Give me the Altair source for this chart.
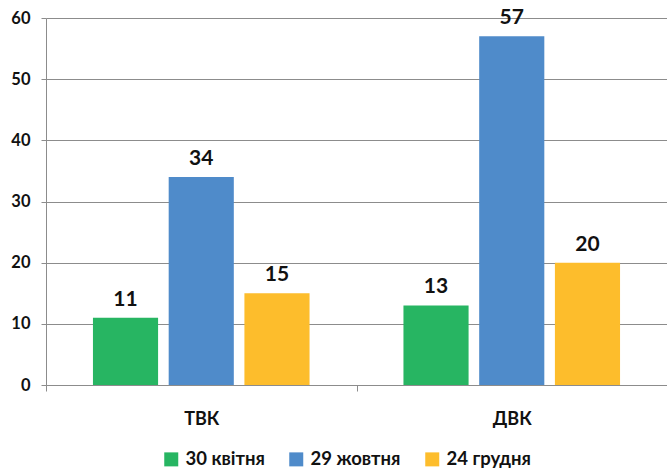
import altair as alt
import pandas as pd

# Commission types and survey dates
groups = ["ТВК", "ДВК"]
dates = ["30 квітня", "29 жовтня", "24 грудня"]
values = {
    "ТВК": [11, 34, 15],
    "ДВК": [13, 57, 20],
}
colors = ["#27b562", "#4f8bca", "#fdbd2c"]

rows = []
for g in groups:
    for d, v in zip(dates, values[g]):
        rows.append({"group": g, "date": d, "value": v})
df = pd.DataFrame(rows)

FONT = "Lato"
GRID = "#8c8c8c"

x = alt.X(
    "group:N",
    sort=groups,
    title=None,
    scale=alt.Scale(paddingInner=0, paddingOuter=0),
    axis=alt.Axis(
        labelAngle=0,
        labelFont=FONT,
        labelFontWeight="bold",
        labelFontSize=18,
        labelColor="#111111",
        labelPadding=19,
        tickBand="extent",
        tickSize=6,
        tickColor=GRID,
        domainColor=GRID,
        grid=False,
    ),
)
xoff = alt.XOffset(
    "date:N",
    sort=dates,
    scale=alt.Scale(paddingInner=0.14, paddingOuter=0.62),
)
y = alt.Y(
    "value:Q",
    title=None,
    scale=alt.Scale(domain=[0, 60], nice=False),
    axis=alt.Axis(
        values=[0, 10, 20, 30, 40, 50, 60],
        labelFont=FONT,
        labelFontWeight="bold",
        labelFontSize=16.5,
        labelColor="#111111",
        labelPadding=11,
        tickSize=5,
        tickColor=GRID,
        domainColor=GRID,
        gridColor=GRID,
        gridWidth=1.2,
    ),
)

bars = alt.Chart(df).mark_bar().encode(
    x=x,
    xOffset=xoff,
    y=y,
    color=alt.Color(
        "date:N",
        sort=dates,
        scale=alt.Scale(domain=dates, range=colors),
        legend=alt.Legend(
            title=None,
            orient="none",
            direction="horizontal",
            legendX=116,
            legendY=432,
            symbolType="square",
            symbolSize=196,
            symbolStrokeWidth=0,
            labelFont=FONT,
            labelFontWeight="bold",
            labelFontSize=18.5,
            labelColor="#111111",
            labelOffset=5,
            columnPadding=22,
        ),
    ),
)

labels = alt.Chart(df).mark_text(
    baseline="alphabetic",
    dy=-12,
    font=FONT,
    fontWeight="bold",
    fontSize=21,
    color="#111111",
).encode(
    x=alt.X("group:N", sort=groups),
    xOffset=xoff,
    y="value:Q",
    text="value:Q",
)

chart = (
    alt.layer(bars, labels)
    .properties(
        width=621,
        height=367,
        padding={"left": 46, "top": 18, "right": 0, "bottom": 87},
        autosize=alt.AutoSizeParams(type="none"),
        background="white",
    )
    .configure_view(stroke=None)
)

chart.save("out.html", embed_options={"renderer": "svg", "actions": False})
